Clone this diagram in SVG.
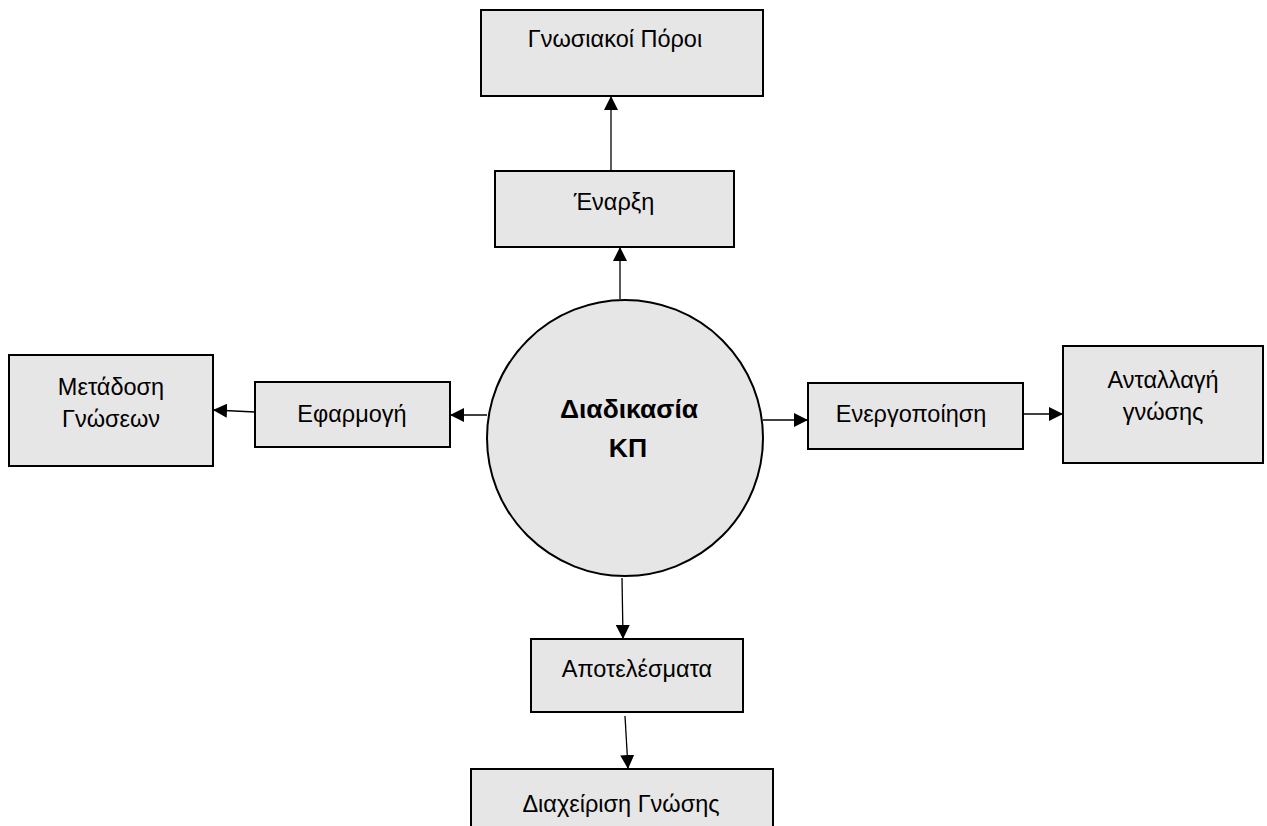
<svg xmlns="http://www.w3.org/2000/svg" width="1267" height="826" viewBox="0 0 1267 826">
<style>
.box{fill:#e7e6e6;stroke:#000;stroke-width:2}
.t{font-family:"Liberation Sans","DejaVu Sans",sans-serif;font-size:23.5px;fill:#000;text-anchor:middle}
.b{font-weight:bold;font-size:26.5px}
.c{stroke:#000;stroke-width:1.3;fill:none;marker-end:url(#ah)}
</style>
<defs>
<marker id="ah" markerUnits="userSpaceOnUse" markerWidth="14" markerHeight="14" viewBox="0 0 14 14" refX="13" refY="7" orient="auto">
<path d="M0,0 L14,7 L0,14 Z" fill="#000"/>
</marker>
</defs>
<rect width="1267" height="826" fill="#fff"/>
<g id="connectors">
<line class="c" x1="611" y1="172" x2="611" y2="97"/>
<line class="c" x1="620" y1="299" x2="620" y2="248"/>
<line class="c" x1="487" y1="415" x2="451" y2="415"/>
<line class="c" x1="255" y1="412" x2="214" y2="410"/>
<line class="c" x1="763" y1="420" x2="807" y2="420"/>
<line class="c" x1="1012" y1="414" x2="1062" y2="414"/>
<line class="c" x1="622" y1="578" x2="623" y2="638"/>
<line class="c" x1="625" y1="716" x2="628" y2="768"/>
</g>
<g id="n-gnosiakoi">
<rect class="box" x="481" y="10" width="282" height="86"/>
<text class="t" x="615" y="47">Γνωσιακοί Πόροι</text>
</g>
<g id="n-enarxi">
<rect class="box" x="495" y="171" width="239" height="76"/>
<text class="t" x="614" y="210">Έναρξη</text>
</g>
<g id="n-kp">
<circle cx="625" cy="438" r="138" fill="#e7e6e6" stroke="#000" stroke-width="2"/>
<text class="t b" x="629" y="418">Διαδικασία</text>
<text class="t b" x="628" y="457">ΚΠ</text>
</g>
<g id="n-metadosi">
<rect class="box" x="9" y="355" width="204" height="111"/>
<text class="t" x="111" y="395">Μετάδοση</text>
<text class="t" x="111" y="427">Γνώσεων</text>
</g>
<g id="n-efarmogi">
<rect class="box" x="255" y="382" width="195" height="65"/>
<text class="t" x="352" y="422">Εφαρμογή</text>
</g>
<g id="n-energopoiisi">
<rect class="box" x="808" y="383" width="215" height="66"/>
<text class="t" x="911" y="422">Ενεργοποίηση</text>
</g>
<g id="n-antallagi">
<rect class="box" x="1063" y="346" width="200" height="117"/>
<text class="t" x="1163" y="388">Ανταλλαγή</text>
<text class="t" x="1163" y="420">γνώσης</text>
</g>
<g id="n-apotelesmata">
<rect class="box" x="531" y="639" width="212" height="73"/>
<text class="t" x="637" y="677">Αποτελέσματα</text>
</g>
<g id="n-diaxeirisi">
<rect class="box" x="471" y="769" width="302" height="70"/>
<text class="t" x="621" y="812">Διαχείριση Γνώσης</text>
</g>
</svg>
